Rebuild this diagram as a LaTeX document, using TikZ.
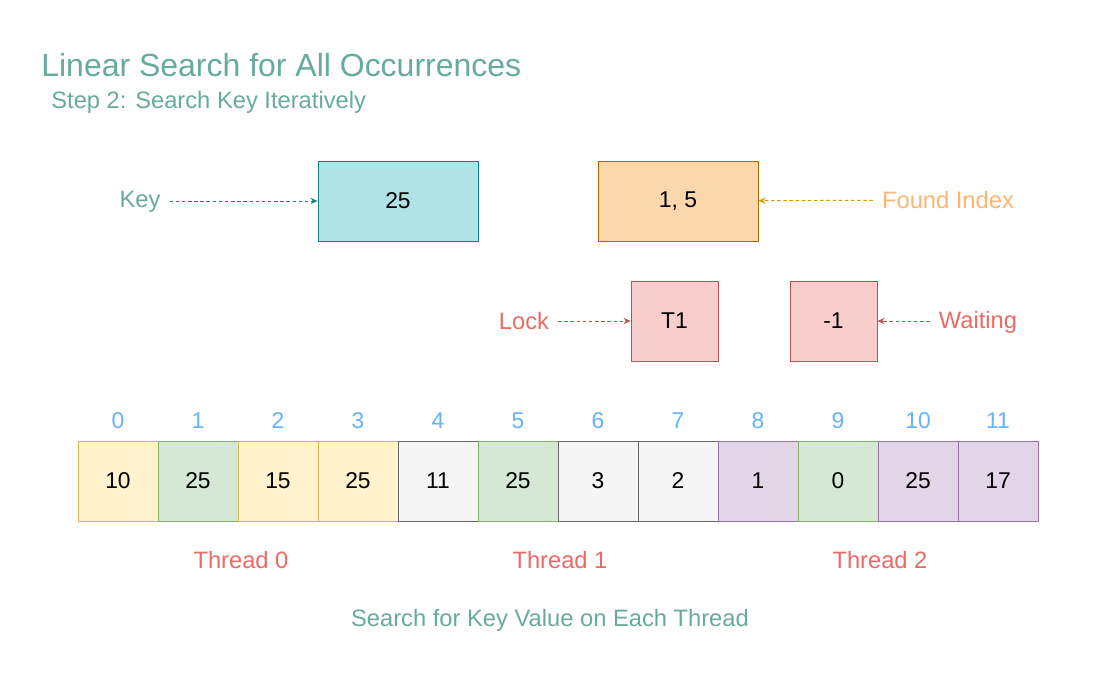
\documentclass[tikz,border=0pt]{standalone}
\usepackage{fontspec}
\setmainfont{Liberation Sans}
\usetikzlibrary{arrows.meta,positioning}
\definecolor{titlegreen}{HTML}{67AB9F}
\definecolor{idxblue}{HTML}{66B2FF}
\definecolor{thrred}{HTML}{EA6B66}
\definecolor{foundtxt}{HTML}{FFB570}
\definecolor{keyfill}{HTML}{B0E3E6}\definecolor{keydraw}{HTML}{0E8088}
\definecolor{orgfill}{HTML}{FAD7AC}\definecolor{orgdraw}{HTML}{B46504}\definecolor{orgarrow}{HTML}{D79B00}
\definecolor{redfill}{HTML}{F8CECC}\definecolor{reddraw}{HTML}{B85450}
\definecolor{yelfill}{HTML}{FFF2CC}\definecolor{yeldraw}{HTML}{D6B656}
\definecolor{grnfill}{HTML}{D5E8D4}\definecolor{grndraw}{HTML}{82B366}
\definecolor{gryfill}{HTML}{F5F5F5}\definecolor{grydraw}{HTML}{666666}
\definecolor{purfill}{HTML}{E1D5E7}\definecolor{purdraw}{HTML}{9673A6}
\tikzset{box/.style={draw, line width=.5pt, inner sep=0pt, font=\fontsize{13}{15}\selectfont},
  cell/.style={box, line width=.4pt, minimum width=1.6cm, minimum height=1.6cm},
  yel/.style={cell, fill=yelfill, draw=yeldraw}, grn/.style={cell, fill=grnfill, draw=grndraw},
  gry/.style={cell, fill=gryfill, draw=grydraw}, pur/.style={cell, fill=purfill, draw=purdraw},
  link/.style={-{Stealth[length=4pt,width=3.5pt]}, line width=.55pt, dash pattern=on 2pt off 1.5pt},
  lab/.style={font=\fontsize{13.5}{16}\selectfont, inner sep=5pt},
  idx/.style={font=\fontsize{13}{15}\selectfont, text=idxblue}}
\begin{document}
\begin{tikzpicture}[x=0.02cm, y=-0.02cm]
\useasboundingbox[fill=white] (0,0) rectangle (1100,700);
\node[anchor=base west, text=titlegreen, font=\fontsize{18.2}{22}\selectfont, inner sep=0pt] (title) at (41,76) {Linear Search for All Occurrences};
\node[anchor=base west, text=titlegreen, font=\fontsize{13.5}{16}\selectfont, inner sep=0pt] (subtitle) at (51,108) {Step 2: Search Key Iteratively};
% key and result
\node[box, fill=keyfill, draw=keydraw, minimum width=3.2cm, minimum height=1.6cm] (key) at (398,201) {25};
\node[box, fill=orgfill, draw=orgdraw, minimum width=3.2cm, minimum height=1.6cm] (found) at (678,201) {1, 5};
\node[box, fill=redfill, draw=reddraw, minimum width=1.74cm, minimum height=1.6cm] (lock) at (674.5,321) {T1};
\node[box, fill=redfill, draw=reddraw, minimum width=1.74cm, minimum height=1.6cm] (wait) at (833.5,321) {-1};
\node[lab, text=titlegreen] (keylab) at (140,202) {Key};
\node[lab, text=foundtxt] (foundlab) at (948,200) {Found Index};
\node[lab, text=thrred] (locklab) at (524,321) {Lock};
\node[lab, text=thrred] (waitlab) at (978,322) {Waiting};
\draw[link, keydraw] (keylab.east |- key) -- (key);
\draw[link, orgarrow] (foundlab) -- (found);
\draw[link, reddraw] (locklab) -- (lock);
\draw[link, reddraw] (waitlab.west |- wait) -- (wait);
% array
\foreach \v/\s [count=\i from 0] in {10/yel,25/grn,15/yel,25/yel,11/gry,25/grn,3/gry,2/gry,1/pur,0/grn,25/pur,17/pur}{
  \node[\s] (c\i) at ({118+80*\i},481) {\v};
  \node[idx] (i\i) at ({118+80*\i},421) {\i};
}
\node[lab, text=thrred] (t0) at (241,560) {Thread 0};
\node[lab, text=thrred] (t1) at (560,560) {Thread 1};
\node[lab, text=thrred] (t2) at (880,560) {Thread 2};
\node[lab, text=titlegreen] (note) at (550,620) {Search for Key Value on Each Thread};
\end{tikzpicture}
\end{document}
